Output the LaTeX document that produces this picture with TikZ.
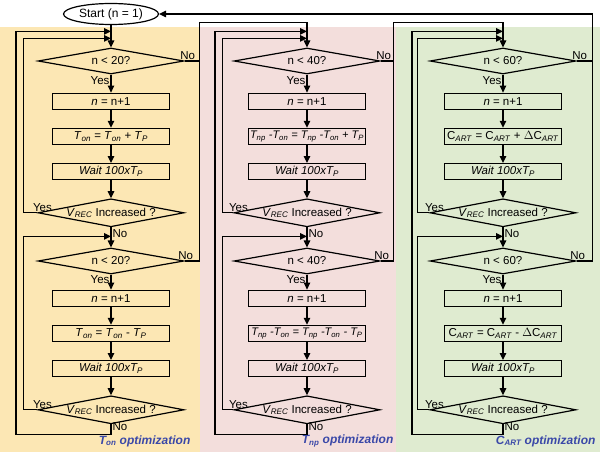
\documentclass[tikz,border=0pt]{standalone}
\usepackage{fontspec}
\setmainfont{Liberation Sans}
\usetikzlibrary{shapes.geometric, positioning, arrows, arrows.meta}

\definecolor{tonbg}{RGB}{252,231,180}
\definecolor{tnpbg}{RGB}{243,222,220}
\definecolor{cartbg}{RGB}{223,235,208}
\definecolor{optblue}{RGB}{58,72,168}

\newcommand{\Ton}{\textit{T}\textsubscript{\textit{on}}}
\newcommand{\Tnp}{\textit{T}\textsubscript{\textit{np}}}
\newcommand{\Tp}{\textit{T}\textsubscript{\textit{P}}}
\newcommand{\Cart}{C\textsubscript{\textit{ART}}}
\newcommand{\Vrec}{\textit{V}\textsubscript{\textit{REC}}}

\begin{document}
\begin{tikzpicture}[x=1pt, y=-1pt, node distance=18pt, >={Triangle[length=7pt, width=6.5pt]}, line width=1.2pt,
		font=\fontsize{11.5}{13}\selectfont,
		test/.style={diamond, draw, aspect=5.3, minimum width=146pt, minimum height=26pt, inner xsep=-40pt, inner ysep=-8pt},
		vrec/.style={test, minimum height=28pt},
		act/.style={rectangle, draw, minimum width=117pt, minimum height=16pt, inner sep=0pt},
		lbl/.style={inner sep=1pt},
		opt/.style={anchor=east, inner sep=0pt, text=optblue, font=\fontsize{12}{14}\selectfont\bfseries\itshape}]
		\useasboundingbox (0,0) rectangle (600,452);
		\fill[white] (0,0) rectangle (600,452);
		\fill[tonbg] (0,27) rectangle (200,452);
		\fill[tnpbg] (200,27) rectangle (396,452);
		\fill[cartbg] (396,27) rectangle (600,452);
		
		\node[draw, ellipse, minimum width=95pt, minimum height=21pt, inner sep=0pt, font=\fontsize{12}{14}\selectfont] (start) at (111,14) {Start (n = 1)};
		
		% T_on column
		\node[test] (q1a) at (111,61) {n < 20?};
		\node[act, below=of q1a] (inc1a) {\textit{n} = n+1};
		\node[act, below=of inc1a] (upd1a) {\Ton{} = \Ton{} + \Tp};
		\node[act, below=of upd1a] (wait1a) {\textit{Wait 100x\Tp}};
		\node[vrec, below=of wait1a] (vr1a) {\Vrec{} Increased ?};
		\node[test, below=20pt of vr1a] (q2a) {n < 20?};
		\node[act, below=15pt of q2a] (inc2a) {\textit{n} = n+1};
		\node[act, below=of inc2a] (upd2a) {\Ton{} = \Ton{} - \Tp};
		\node[act, below=of upd2a] (wait2a) {\textit{Wait 100x\Tp}};
		\node[vrec, below=of wait2a] (vr2a) {\Vrec{} Increased ?};
		\node[opt] (opta) at (191,441) {\Ton{} optimization};
		
		% T_np column
		\node[test] (q1b) at (307,61) {n < 40?};
		\node[act, below=of q1b] (inc1b) {\textit{n} = n+1};
		\node[act, below=of inc1b, font=\fontsize{11}{13}\selectfont] (upd1b) {\textit{\Tnp{} -\Ton{} = \Tnp{} -\Ton{} + \Tp}};
		\node[act, below=of upd1b] (wait1b) {\textit{Wait 100x\Tp}};
		\node[vrec, below=of wait1b] (vr1b) {\Vrec{} Increased ?};
		\node[test, below=20pt of vr1b] (q2b) {n < 40?};
		\node[act, below=15pt of q2b] (inc2b) {\textit{n} = n+1};
		\node[act, below=of inc2b, font=\fontsize{11}{13}\selectfont] (upd2b) {\textit{\Tnp{} -\Ton{} = \Tnp{} -\Ton{} - \Tp}};
		\node[act, below=of upd2b] (wait2b) {\textit{Wait 100x\Tp}};
		\node[vrec, below=of wait2b] (vr2b) {\Vrec{} Increased ?};
		\node[opt] (optb) at (394,441) {\Tnp{} optimization};
		
		% C_ART column
		\node[test] (q1c) at (503,61) {n < 60?};
		\node[act, below=of q1c] (inc1c) {\textit{n} = n+1};
		\node[act, below=of inc1c] (upd1c) {\Cart{} = \Cart{} + $\Delta$\Cart};
		\node[act, below=of upd1c] (wait1c) {\textit{Wait 100x\Tp}};
		\node[vrec, below=of wait1c] (vr1c) {\Vrec{} Increased ?};
		\node[test, below=20pt of vr1c] (q2c) {n < 60?};
		\node[act, below=15pt of q2c] (inc2c) {\textit{n} = n+1};
		\node[act, below=of inc2c] (upd2c) {\Cart{} = \Cart{} - $\Delta$\Cart};
		\node[act, below=of upd2c] (wait2c) {\textit{Wait 100x\Tp}};
		\node[vrec, below=of wait2c] (vr2c) {\Vrec{} Increased ?};
		\node[opt] (optc) at (596,441) {\Cart{} optimization};
		
		\path[->]
		(start) edge (q1a)
		(q1a) edge node[lbl, left, pos=0.35] {Yes} (inc1a)
		(inc1a) edge (upd1a)
		(upd1a) edge (wait1a)
		(wait1a) edge (vr1a)
		(vr1a) edge node[lbl, right, pos=0.3] {No} (q2a)
		(q2a) edge node[lbl, left, pos=0.35] {Yes} (inc2a)
		(inc2a) edge (upd2a)
		(upd2a) edge (wait2a)
		(wait2a) edge (vr2a)
		(q1b) edge node[lbl, left, pos=0.35] {Yes} (inc1b)
		(inc1b) edge (upd1b)
		(upd1b) edge (wait1b)
		(wait1b) edge (vr1b)
		(vr1b) edge node[lbl, right, pos=0.3] {No} (q2b)
		(q2b) edge node[lbl, left, pos=0.35] {Yes} (inc2b)
		(inc2b) edge (upd2b)
		(upd2b) edge (wait2b)
		(wait2b) edge (vr2b)
		(q1c) edge node[lbl, left, pos=0.35] {Yes} (inc1c)
		(inc1c) edge (upd1c)
		(upd1c) edge (wait1c)
		(wait1c) edge (vr1c)
		(vr1c) edge node[lbl, right, pos=0.3] {No} (q2c)
		(q2c) edge node[lbl, left, pos=0.35] {Yes} (inc2c)
		(inc2c) edge (upd2c)
		(upd2c) edge (wait2c)
		(wait2c) edge (vr2c);
		
		% loops back
		\draw[->] (vr1a.west) node[lbl, above, xshift=5pt] {Yes} -- ++(-14,0) |- ([yshift=9pt]q1a.north);
		\draw[->] (vr2a.west) node[lbl, above, xshift=5pt] {Yes} -- ++(-14,0) |- ([yshift=11pt]q2a.north);
		\draw[->] (vr2a.south) -- node[lbl, right, pos=0.25] {No} ++(0,10) -| ([xshift=-95pt, yshift=16pt]q1a.north) -- ([yshift=16pt]q1a.north);
		\draw[->] (vr1b.west) node[lbl, above, xshift=5pt] {Yes} -- ++(-11,0) |- ([yshift=9pt]q1b.north);
		\draw[->] (vr2b.west) node[lbl, above, xshift=5pt] {Yes} -- ++(-11,0) |- ([yshift=11pt]q2b.north);
		\draw[->] (vr2b.south) -- node[lbl, right, pos=0.25] {No} ++(0,10) -| ([xshift=-92pt, yshift=16pt]q1b.north) -- ([yshift=16pt]q1b.north);
		\draw[->] (vr1c.west) node[lbl, above, xshift=5pt] {Yes} -- ++(-12,0) |- ([yshift=9pt]q1c.north);
		\draw[->] (vr2c.west) node[lbl, above, xshift=5pt] {Yes} -- ++(-12,0) |- ([yshift=11pt]q2c.north);
		\draw[->] (vr2c.south) -- node[lbl, right, pos=0.25] {No} ++(0,10) -| ([xshift=-91pt, yshift=16pt]q1c.north) -- ([yshift=16pt]q1c.north);
		
		% exits to next column
		\draw (q1a.east) node[lbl, above, xshift=3pt] {No} -- ++(15,0);
		\draw[->] (q2a.east) node[lbl, above, xshift=1pt] {No} -- ++(15,0) |- ([yshift=25pt]q1b.north) -- (q1b.north);
		\draw (q1b.east) node[lbl, above, xshift=3pt] {No} -- ++(13,0);
		\draw[->] (q2b.east) node[lbl, above, xshift=1pt] {No} -- ++(13,0) |- ([yshift=25pt]q1c.north) -- (q1c.north);
		\draw (q1c.east) node[lbl, above, xshift=3pt] {No} -- ++(16,0);
		\draw[->] (q2c.east) node[lbl, above, xshift=1pt] {No} -- ++(16,0) |- (start.east);
	\end{tikzpicture}
\end{document}
